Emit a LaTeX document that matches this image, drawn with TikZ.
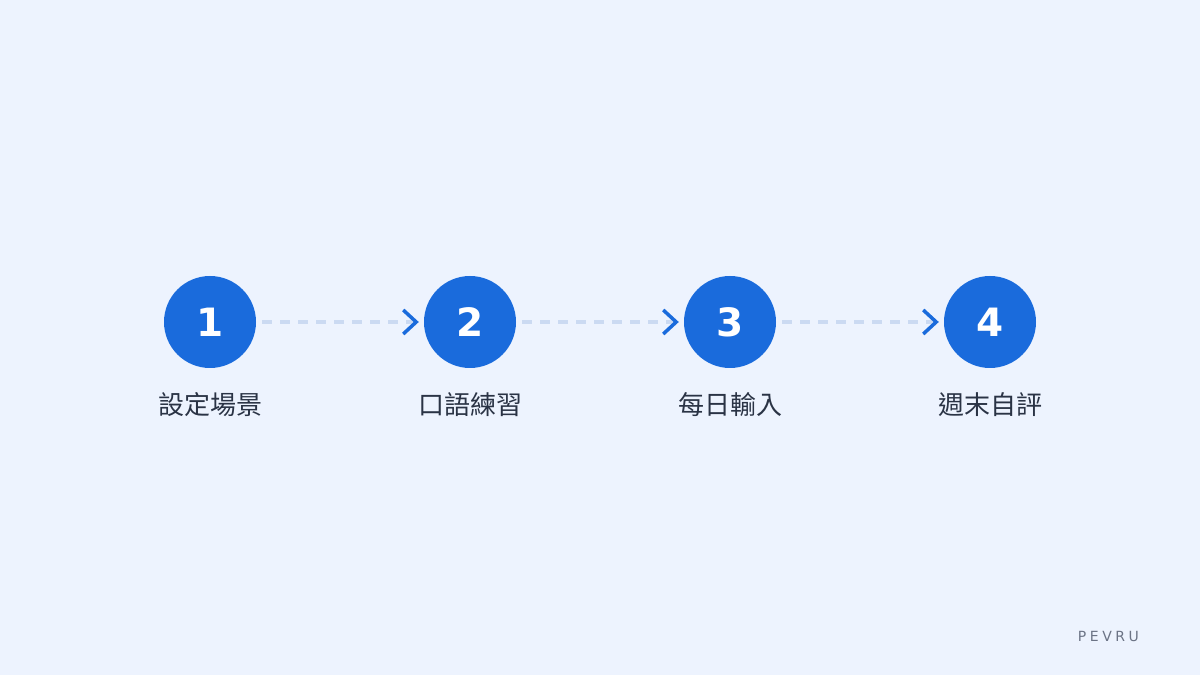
\documentclass[tikz,border=0pt]{standalone}
\usepackage{fontspec}
\setmainfont{DejaVu Sans}
\newfontfamily\cjkfont{Noto Sans CJK TC}
\newfontfamily\markfont[LetterSpace=25]{DejaVu Sans}
\usetikzlibrary{arrows.meta, positioning}

\definecolor{bgblue}{HTML}{EDF3FE}
\definecolor{stepblue}{HTML}{1A6BDC}
\definecolor{dashblue}{HTML}{CBDAF2}
\definecolor{labeltext}{HTML}{2A3345}
\definecolor{marktext}{HTML}{6B7385}

\begin{document}
\begin{tikzpicture}[
        x=1pt, y=1pt,
        stepdot/.style={circle, fill=stepblue, minimum size=92pt, inner sep=0pt,
            text=white, font=\fontsize{39}{39}\selectfont\bfseries},
        steplabel/.style={inner sep=0pt, text=labeltext, font=\cjkfont\fontsize{26}{26}\selectfont},
        link/.style={dashblue, line width=4pt, dash pattern=on 10pt off 8pt,
            shorten <=6pt, shorten >=5pt,
            -{Straight Barb[length=13pt, width=24pt, line width=3.5pt, color=stepblue]}}
        ]

        % Background
        \fill[bgblue] (0,0) rectangle (1200,675);

        % Steps
        \foreach \i/\txt in {1/設定場景, 2/口語練習, 3/每日輸入, 4/週末自評} {
                \node[stepdot] (s-\i) at (210+260*\i-260, 353) {\i};
                \node[steplabel, below=24pt of s-\i] (l-\i) {\txt};
            }

        % Connect the steps
        \foreach \i [evaluate=\i as \j using int(\i+1)] in {1,...,3}
            \draw[link] (s-\i) -- (s-\j);

        % Mark
        \node[inner sep=0pt, text=marktext, font=\markfont\fontsize{14}{14}\selectfont,
            anchor=east] (mark) at (1139, 39) {PEVRU};

\end{tikzpicture}
\end{document}
